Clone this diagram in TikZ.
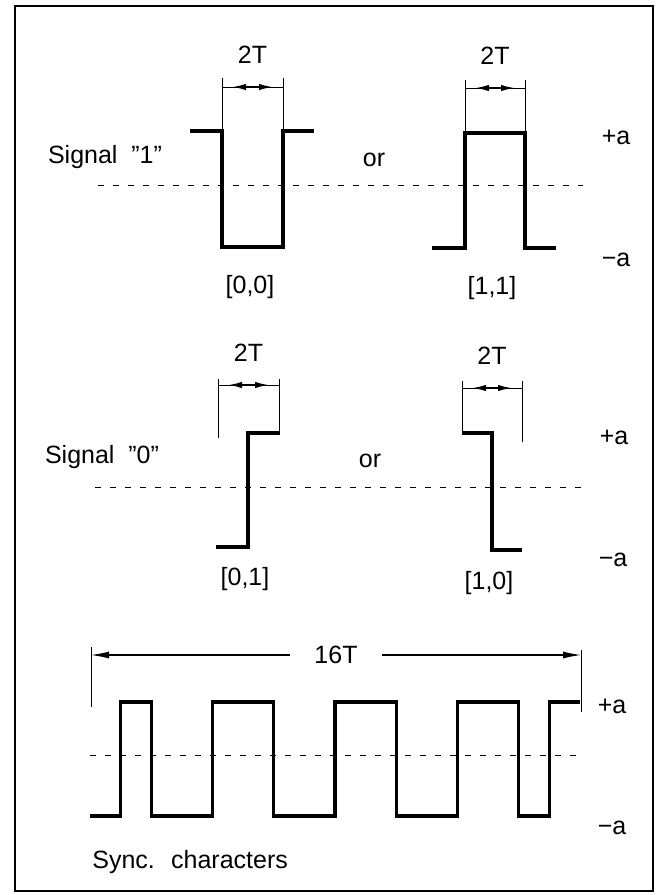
\documentclass[tikz,border=0pt]{standalone}
\usepackage{fontspec}
\setmainfont{Liberation Sans}
\usetikzlibrary{arrows.meta,positioning}

\begin{document}
\begin{tikzpicture}[x=0.5pt, y=-0.5pt, font=\fontsize{12.5}{15}\selectfont,
  wave/.style={line width=1.6pt, line join=miter},
  guide/.style={line width=0.5pt},
  zero/.style={line width=0.5pt, dash pattern=on 3pt off 4.5pt},
  dim/.style={line width=0.9pt, {Latex[length=7pt,width=3.2pt]}-{Latex[length=7pt,width=3.2pt]}, shorten <=5pt, shorten >=5pt},
  bigdim/.style={line width=0.6pt, {Latex[length=9pt,width=3.5pt]}-{Latex[length=9pt,width=3.5pt]}}]
\path[use as bounding box] (0,0) rectangle (655,895);
\draw[line width=1.1pt] (15,6) rectangle (653,891);
\def\T{30.625}

% signal "1"
\node (sig1) at (105,157) {Signal \ "1"};
\node (or1) at (374,160) {or};
\node (pa1) at (616,137) {+a};
\node (ma1) at (616,260) {−a};
\draw[zero] (98,185) -- (583,185);
\draw[wave] (190,131) -- (222,131) -- (222,247) -- (283,247) -- (283,131) -- (314,131);
\draw[wave] (432,248) -- (465,248) -- (465,133) -- (525,133) -- (525,248) -- (556,248);
\node (c00) at (250,287) {[0,0]};
\node (c11) at (492,288) {[1,1]};

% signal "0"
\node (sig0) at (102,457) {Signal \ "0"};
\node (or0) at (370,461) {or};
\node (pa0) at (614,437) {+a};
\node (ma0) at (613,560) {−a};
\draw[zero] (95,487) -- (582,487);
\draw[wave] (216,547) -- (248,547) -- (248,433) -- (279,433);
\draw[wave] (462,433) -- (492,433) -- (492,550) -- (522,550);
\node (c01) at (245,579) {[0,1]};
\node (c10) at (489,583) {[1,0]};

% 2T dimensions
\foreach \n/\xl/\xr/\yt/\ya/\ybl/\ybr in {00/222/283/78/87/131/131, 11/465/525/80/88/133/133,
    01/218/279/379/385/438/435, 10/462/522/381/388/433/442} {
  \coordinate (dl\n) at (\xl,\ya);
  \coordinate (dr\n) at (\xr,\ya);
  \draw[guide] (\xl,\yt) -- (\xl,\ybl);
  \draw[guide] (\xr,\yt) -- (\xr,\ybr);
  \draw[guide] (dl\n) -- (dr\n);
  \draw[dim] (dl\n) -- (dr\n);
  \node (t\n) at ({(\xl+\xr)/2},{\ya-32}) {2T};
}

% sync characters
\coordinate (sl) at (91,655);
\coordinate (sr) at (581,655);
\draw[guide] (91,647) -- (91,707);
\draw[guide] (581,650) -- (581,712);
\draw[bigdim] (sl) -- node[fill=white, inner xsep=12pt] (t16) {16T} (sr);
\draw[zero] (90,755) -- (580,755);
\draw[wave] (90,816) -| ({90+\T},702) -| ({90+2*\T},816) -| ({90+4*\T},702)
  -| ({90+6*\T},816) -| ({90+8*\T},702) -| ({90+10*\T},816) -| ({90+12*\T},702)
  -| ({90+14*\T},816) -| ({90+15*\T},702) -- ({90+16*\T},702);
\node (pa2) at (612,706) {+a};
\node (ma2) at (612,828) {−a};
\node[anchor=west, inner sep=0pt] (sync) at (92,862) {Sync. \ characters};
\end{tikzpicture}
\end{document}
